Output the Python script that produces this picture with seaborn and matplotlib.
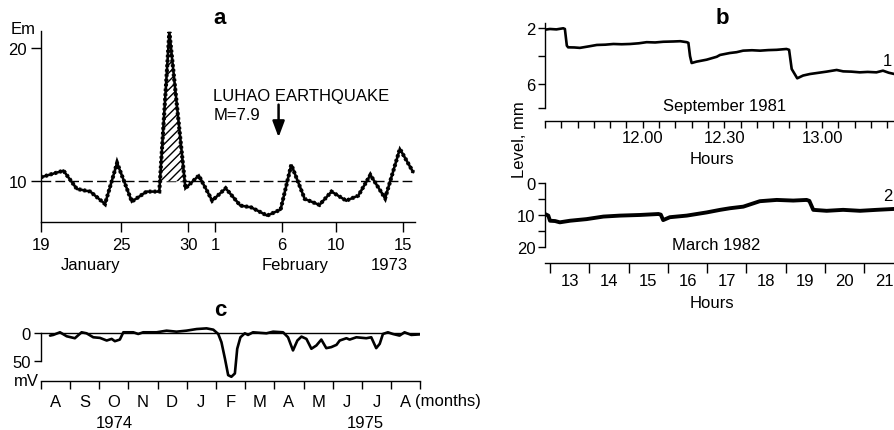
import numpy as np
import pandas as pd
import matplotlib
matplotlib.use("Agg")
import matplotlib.pyplot as plt
import seaborn as sns

# ---------------- data ----------------
# panel a : electromagnetic emission, Jan 19 - Feb 16 1973 (day 0 = Jan 19)
a_day = [0, 1.7, 2.7, 3.7, 4.8, 5.7, 6.8, 7.9, 8.85, 9.6, 10.8, 11.8, 12.8, 13.8,
         14.9, 15.7, 16.9, 17.9, 18.7, 19.7, 20.8, 21.7, 22.8, 23.7, 24.6, 25.7, 26.8, 27.8]
a_em = [10.3, 10.8, 9.43, 9.23, 8.3, 11.38, 8.48, 9.23, 9.23, 21.2, 9.48, 10.43, 8.55, 9.48,
        8.18, 8.05, 7.43, 7.88, 11.25, 8.68, 8.23, 9.23, 8.55, 8.93, 10.48, 8.73, 12.43, 10.68]
a_baseline = 10
a_tick_days = [0, 6, 11, 13, 18, 22, 27]
a_tick_labels = ["19", "25", "30", "1", "6", "10", "15"]
a_month_labels = ["January", "February", "1973"]
a_month_pos = [3.7, 19.0, 26.0]
a_quake_day = 17.75

# panel b1 : level, September 1981 (minutes from 11.30)
b1_min = [0, 1.5, 3.5, 5.6, 6.1, 6.7, 7.1, 9.0, 10.7, 13.5, 15.9, 18.5, 21, 23.5, 26.1, 28.8,
          31.2, 33.8, 36.3, 39.4, 41.5, 43.5, 44, 44.5, 45, 46.5, 49.6, 52.7, 53.7, 56.7,
          58.8, 60.8, 63.5, 66, 68.5, 71.1, 74.1, 74.9, 75.7, 77.4, 79.2, 81.3, 84, 86.4,
          89.5, 91.5, 94, 96.6, 99, 101.7, 103.7, 105.5, 107.4]
b1_level = [2.1, 2.05, 2.08, 2.0, 2.05, 3.25, 3.37, 3.38, 3.41, 3.3, 3.2, 3.18, 3.13, 3.15,
            3.13, 3.08, 3.0, 3.02, 2.97, 2.95, 2.93, 3.0, 3.05, 4.0, 4.5, 4.4, 4.26, 4.05,
            3.92, 3.78, 3.72, 3.61, 3.58, 3.61, 3.57, 3.55, 3.49, 3.55, 4.93, 5.6, 5.4,
            5.29, 5.2, 5.12, 5.0, 5.1, 5.12, 5.17, 5.14, 5.17, 5.05, 5.2, 5.3]
b1_ticks = list(range(0, 110, 5))
b1_labels = {30: "12.00", 55: "12.30", 85: "13.00"}

# panel b2 : level, March 1982 (hours)
b2_hour = [12.873, 12.957, 13.0, 13.13, 13.25, 13.51, 13.93, 14.36, 14.78, 15.29, 15.76, 15.82,
           15.88, 16.05, 16.48, 16.99, 17.33, 17.58, 17.92, 18.34, 18.77, 19.19, 19.53, 19.60,
           19.70, 20.04, 20.46, 20.89, 21.31, 21.78]
b2_level = [9.6, 10.1, 11.7, 11.8, 12.2, 11.7, 11.2, 10.4, 10.1, 9.9, 9.6, 9.8,
            11.5, 10.6, 10.1, 9.1, 8.3, 7.8, 7.3, 5.6, 5.2, 5.4, 5.2, 5.5,
            8.3, 8.6, 8.3, 8.6, 8.3, 8.0]
b2_hours = list(range(13, 22))

# panel c : potential, Aug 1974 - Aug 1975 (months from Aug 1974)
c_month = [0.32, 0.43, 0.66, 0.89, 1.17, 1.40, 1.57, 1.80, 2.03, 2.26, 2.43, 2.54, 2.71, 2.83,
           3.17, 3.34, 3.51, 3.97, 4.31, 4.65, 4.99, 5.34, 5.68, 5.91, 6.08, 6.19, 6.31, 6.42,
           6.53, 6.65, 6.73, 6.84, 6.99, 7.10, 7.27, 7.73, 7.96, 8.30, 8.47, 8.64, 8.79, 8.93,
           9.10, 9.27, 9.44, 9.61, 9.78, 9.95, 10.13, 10.24, 10.47, 10.58, 10.81, 11.15, 11.32,
           11.49, 11.61, 11.72, 11.89, 12.06, 12.29, 12.46, 12.69, 13.03]
c_mv = [4.1, 2.9, -1.8, 5.3, 8.8, -1.8, 0, 7.1, 8.2, 12.9, 10.0, 14.1, 11.2, -1.8,
        -1.8, 1.2, -1.8, -1.8, -4.7, -2.9, -4.7, -7.6, -8.8, -6.5, 1.2, 15.9, 45.3, 74.7,
        77.6, 71.7, 27.6, 7.1, 0, 2.9, -1.8, 0, -2.9, -1.8, 7.1, 30.6, 12.9, 5.9,
        10.0, 27.6, 21.8, 11.2, 26.5, 24.7, 20.6, 12.9, 8.8, 11.2, 7.1, 8.8, 7.1,
        26.5, 18.8, 1.2, -1.8, 1.2, 4.1, -1.8, 2.9, 1.8]
c_month_labels = ["A", "S", "O", "N", "D", "J", "F", "M", "A", "M", "J", "J", "A"]
c_year_labels = ["1974", "1975"]
c_year_pos = [2.52, 11.1]

# ---------------- style ----------------
sns.set_theme(style="ticks")
plt.rcParams["font.family"] = ["Liberation Sans", "DejaVu Sans"]
for k in ["text.color", "axes.labelcolor", "xtick.color", "ytick.color", "axes.edgecolor"]:
    plt.rcParams[k] = "black"
plt.rcParams["hatch.linewidth"] = 1.0
FS = 12
W, H = 895, 431
fig = plt.figure(figsize=(W / 100, H / 100), dpi=100)


def rect(l, t, r, b):
    return [l / W, 1 - b / H, (r - l) / W, (b - t) / H]


def ftext(x, y, s, **kw):
    fig.text(x / W, 1 - y / H, s, **kw)


def style_axes(a):
    for s in ["top", "right"]:
        a.spines[s].set_visible(False)
    for s in ["left", "bottom"]:
        a.spines[s].set_linewidth(1.0)
        a.spines[s].set_color("black")
    a.set_xlabel("")
    a.set_ylabel("")


# ---------------- panel a ----------------
ax = fig.add_axes(rect(40.7, 32, 415, 223))
dfa = pd.DataFrame({"day": a_day, "em": a_em})
ax.axhline(a_baseline, color="black", lw=1.0, dashes=(7, 3), zorder=1)
arr_d = np.array(a_day)
arr_e = np.array(a_em)
mask = (arr_d > 8.5) & (arr_d < 11) & (arr_e > a_baseline)
ax.fill_between(arr_d, arr_e, a_baseline, where=mask, interpolate=True,
                facecolor="white", edgecolor="black", hatch="////", lw=0, zorder=2)
sns.lineplot(data=dfa, x="day", y="em", ax=ax, color="black", lw=1.9,
             estimator=None, sort=False, zorder=3, solid_joinstyle="miter")
sns.lineplot(data=dfa, x="day", y="em", ax=ax, color="black", lw=2.9,
             linestyle=(0, (0.6, 0.6)), dash_capstyle="butt", dash_joinstyle="miter",
             estimator=None, sort=False, zorder=3)
ax.set_xlim(0, 27.93)
ax.set_ylim(6.95, 21.27)
ax.set_xticks(a_tick_days)
ax.set_xticklabels(a_tick_labels)
ax.set_yticks([10, 20])
ax.tick_params(axis="both", labelsize=FS, length=7, width=1.0, color="black", pad=3)
ax.tick_params(axis="x", pad=4)
style_axes(ax)
for lab, pos in zip(a_month_labels, a_month_pos):
    ax.text(pos, -0.225, lab, transform=ax.get_xaxis_transform(), ha="center", va="center",
            fontsize=FS)
ax.text(12.87, 16.47, "LUHAO EARTHQUAKE", ha="left", va="center", fontsize=FS)
ax.text(12.87, 15.04, "M=7.9", ha="left", va="center", fontsize=FS)
ax.annotate("", xy=(a_quake_day, 13.3), xytext=(a_quake_day, 15.75),
            arrowprops=dict(arrowstyle="-|>,head_length=0.8,head_width=0.3", color="black",
                            lw=1.8, shrinkA=0, shrinkB=0))
ftext(23, 30, "Em", ha="center", va="center", fontsize=FS)
ftext(220, 19, "a", ha="center", va="center", fontsize=16, fontweight="bold")

# ---------------- panel b1 ----------------
bx1 = fig.add_axes(rect(545, 24, 895, 121.7))
dfb1 = pd.DataFrame({"t": b1_min, "lev": b1_level})
sns.lineplot(data=dfb1, x="t", y="lev", ax=bx1, color="black", lw=1.9,
             estimator=None, sort=False)
bx1.set_xlim(0, 107.4)
bx1.set_ylim(8.65, 1.62)
bx1.spines["left"].set_bounds(1.62, 7.75)
bx1.set_yticks([2, 4, 6, 7.75])
bx1.set_yticklabels(["2", "", "6", ""])
bx1.set_xticks(b1_ticks)
bx1.set_xticklabels([b1_labels.get(t, "") for t in b1_ticks])
bx1.tick_params(axis="both", labelsize=FS, length=5, width=1.0, color="black", pad=2)
style_axes(bx1)
ftext(725, 107, "September 1981", ha="center", va="center", fontsize=FS)
ftext(712, 159, "Hours", ha="center", va="center", fontsize=FS)
ftext(887, 62, "1", ha="center", va="center", fontsize=FS)
ftext(722, 18, "b", ha="center", va="center", fontsize=16, fontweight="bold")
ftext(520, 140, "Level, mm", ha="center", va="center", fontsize=FS, rotation=90)

# ---------------- panel b2 ----------------
bx2 = fig.add_axes(rect(545, 183, 895, 264.3))
dfb2 = pd.DataFrame({"h": b2_hour, "lev": b2_level})
sns.lineplot(data=dfb2, x="h", y="lev", ax=bx2, color="black", lw=2.8,
             estimator=None, sort=False)
bx2.set_xlim(12.873, 21.78)
bx2.set_ylim(25, -0.4)
bx2.spines["left"].set_bounds(0, 20)
bx2.set_yticks([0, 5, 10, 15, 20])
bx2.set_yticklabels(["0", "", "10", "", "20"])
bx2.set_xticks(b2_hours)
bx2.set_xticklabels([])
bx2.set_xticks([h + 0.5 for h in b2_hours], minor=True)
bx2.set_xticklabels([str(h) for h in b2_hours], minor=True)
bx2.tick_params(axis="both", labelsize=FS, length=5, width=1.0, color="black", pad=2)
bx2.tick_params(axis="x", which="major", length=7)
bx2.tick_params(axis="x", which="minor", length=0, labelsize=FS, pad=7)
style_axes(bx2)
ftext(716, 246, "March 1982", ha="center", va="center", fontsize=FS)
ftext(712, 303, "Hours", ha="center", va="center", fontsize=FS)
ftext(888, 197, "2", ha="center", va="center", fontsize=FS)

# ---------------- panel c ----------------
cx = fig.add_axes(rect(40.7, 325, 420.3, 382.3))
dfc = pd.DataFrame({"m": c_month, "mv": c_mv})
cx.axhline(0, color="black", lw=1.0, zorder=1)
sns.lineplot(data=dfc, x="m", y="mv", ax=cx, color="black", lw=1.9,
             estimator=None, sort=False, zorder=3)
cx.set_xlim(0, 13)
cx.set_ylim(85.7, -16.6)
cx.spines["left"].set_bounds(0, 50)
cx.set_yticks([0, 50])
cx.set_xticks(range(0, 14))
cx.set_xticklabels([])
cx.set_xticks([m + 0.5 for m in range(13)], minor=True)
cx.set_xticklabels(c_month_labels, minor=True)
cx.tick_params(axis="both", labelsize=FS, length=5, width=1.0, color="black", pad=2)
cx.tick_params(axis="x", which="major", length=6)
cx.tick_params(axis="x", which="minor", length=0, labelsize=FS, pad=9)
style_axes(cx)
for lab, pos in zip(c_year_labels, c_year_pos):
    cx.text(pos, -0.72, lab, transform=cx.get_xaxis_transform(), ha="center", va="center",
            fontsize=FS)
ftext(415, 402, "(months)", ha="left", va="center", fontsize=FS)
ftext(26, 382, "mV", ha="center", va="center", fontsize=FS)
ftext(220, 310, "c", ha="center", va="center", fontsize=16, fontweight="bold")

fig.savefig("out.png", dpi=100)
